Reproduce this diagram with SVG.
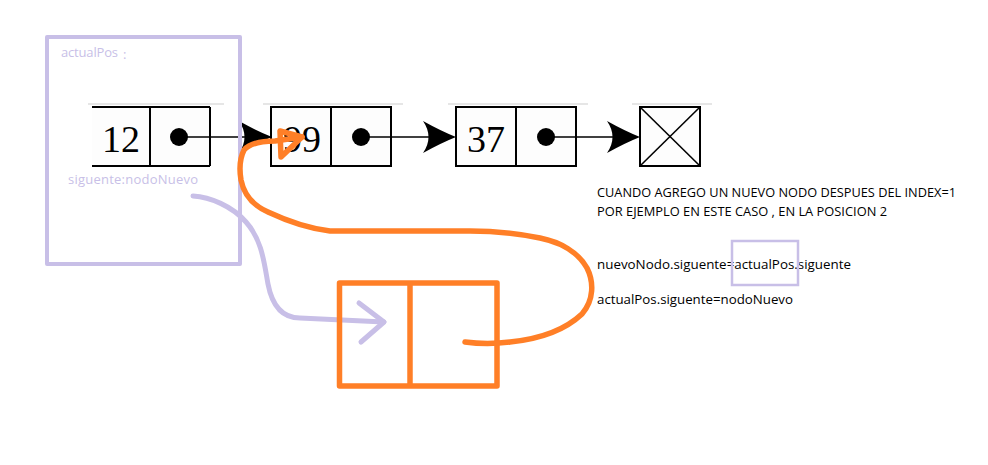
<svg xmlns="http://www.w3.org/2000/svg" width="988" height="465" viewBox="0 0 988 465">
<style>
.cell{fill:#fdfdfd;stroke:#000;stroke-width:2}
.num{font-family:"Liberation Serif","Times New Roman",serif;font-size:38px;fill:#000;text-anchor:middle}
.ptr{fill:none;stroke:#000;stroke-width:1.6}
.dot{fill:#000}
.head{fill:#000}
.lav{fill:none;stroke:#c8bfe7;stroke-linecap:round;stroke-linejoin:round}
.org{fill:none;stroke:#ff7f27;stroke-linecap:round;stroke-linejoin:round}
.note{font-family:"Open Sans","Noto Sans","Liberation Sans",sans-serif;font-size:12.5px;fill:#000}
.lavtxt{font-family:"Open Sans","Noto Sans","Liberation Sans",sans-serif;font-size:13px;fill:#c8bfe7}
.faint{stroke:#e6e6e6;stroke-width:2}
</style>
<defs>
<path id="ah" d="M0,0 Q-15,-6 -33,-16 Q-22,0 -33,16 Q-15,6 0,0 Z"/>
</defs>
<rect width="988" height="465" fill="#ffffff"/>

<g id="faint-lines">
<line class="faint" x1="88" y1="104" x2="224" y2="104"/>
<line class="faint" x1="263" y1="104" x2="403" y2="104"/>
<line class="faint" x1="448" y1="104" x2="588" y2="104"/>
<line class="faint" x1="632" y1="104" x2="712" y2="104"/>
</g>

<g id="node12">
<rect x="92" y="107" width="118" height="59" fill="#fdfdfd"/>
<line x1="92" y1="107" x2="210" y2="107" stroke="#000" stroke-width="2"/>
<line x1="92" y1="166" x2="210" y2="166" stroke="#000" stroke-width="2"/>
<line x1="150" y1="107" x2="150" y2="166" stroke="#000" stroke-width="2"/>
<line x1="210" y1="107" x2="210" y2="166" stroke="#000" stroke-width="2"/>
<text class="num" x="121" y="152">12</text>
<circle class="dot" cx="179" cy="137" r="9"/>
</g>

<g id="node99">
<rect class="cell" x="271" y="107" width="120" height="59"/>
<line x1="331" y1="107" x2="331" y2="166" stroke="#000" stroke-width="2"/>
<text class="num" x="302" y="152">99</text>
<circle class="dot" cx="361" cy="137" r="9"/>
</g>

<g id="node37">
<rect class="cell" x="456" y="107" width="120" height="59"/>
<line x1="516" y1="107" x2="516" y2="166" stroke="#000" stroke-width="2"/>
<text class="num" x="486" y="152">37</text>
<circle class="dot" cx="546" cy="137" r="9"/>
</g>

<g id="nullnode">
<rect class="cell" x="640" y="107" width="60" height="59"/>
<line x1="640" y1="107" x2="700" y2="166" stroke="#000" stroke-width="1.6"/>
<line x1="700" y1="107" x2="640" y2="166" stroke="#000" stroke-width="1.6"/>
</g>

<g id="connectors">
<line class="ptr" x1="179" y1="137" x2="262" y2="137"/>
<use href="#ah" class="head" transform="translate(272,137)"/>
<line class="ptr" x1="361" y1="137" x2="446" y2="137"/>
<use href="#ah" class="head" transform="translate(456,137)"/>
<line class="ptr" x1="546" y1="137" x2="630" y2="137"/>
<use href="#ah" class="head" transform="translate(640,137)"/>
</g>

<g id="actualPos">
<rect x="47" y="37" width="193" height="227" class="lav" stroke-width="4" stroke-linecap="square" stroke-linejoin="miter"/>
<text class="lavtxt" x="61" y="57" textLength="57">actualPos</text>
<text class="lavtxt" x="123" y="59">:</text>
<text class="lavtxt" x="68" y="184" textLength="130">siguente:nodoNuevo</text>
</g>

<g id="lavender-arrow">
<path class="lav" stroke-width="5" d="M193,196 C210,197 232,206 246,222 C262,240 264,262 268,284 C272,305 282,318 300,318 L384,322"/>
<path class="lav" stroke-width="5" d="M359,303 L384,322 L361,342"/>
</g>

<g id="nuevoNodo">
<rect x="339.5" y="283" width="157.5" height="103" class="org" stroke-width="5.5" stroke-linecap="square" stroke-linejoin="miter"/>
<line x1="410" y1="283" x2="410" y2="386" stroke="#ff7f27" stroke-width="5.5"/>
</g>

<g id="orange-arrow">
<path class="org" stroke-width="5.5" d="M465,342 C480,344 495,344 510,342 C540,339 565,330 582,314 C594,300 594,282 587,268 C578,252 560,242 540,238 C520,234 500,231 470,231 L330,231 C305,228 285,220 268,212 C252,205 244,195 241,180 C239,168 240,158 244,150 C250,143 262,141 275,141 L302,137"/>
<path class="org" stroke-width="5.5" d="M302,137 L280,131 L281,157 Z"/>
</g>

<g id="notes">
<text class="note" x="597" y="197" textLength="359" lengthAdjust="spacingAndGlyphs">CUANDO AGREGO UN NUEVO NODO DESPUES DEL INDEX=1</text>
<text class="note" x="597" y="216" textLength="290" lengthAdjust="spacingAndGlyphs">POR EJEMPLO EN ESTE CASO , EN LA POSICION 2</text>
<text class="note" x="597" y="269" textLength="254" lengthAdjust="spacingAndGlyphs">nuevoNodo.siguente=actualPos.siguente</text>
<text class="note" x="597" y="304" textLength="196" lengthAdjust="spacingAndGlyphs">actualPos.siguente=nodoNuevo</text>
<rect x="732" y="241" width="66" height="44" fill="none" stroke="#c8bfe7" stroke-width="2.5"/>
</g>
</svg>
